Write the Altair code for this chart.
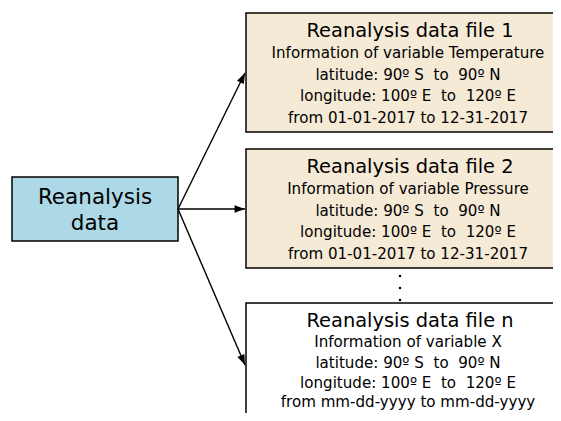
import math
import altair as alt
import pandas as pd

# ---- data (positions in picture pixels, mapped through linear scales) ----
box_x1 = [12, 246, 246, 246]
box_x2 = [178, 620, 620, 620]
box_y1 = [177, 13, 149, 303]
box_y2 = [241, 132, 268, 460]
box_fill = ["#ADD8E6", "#F5EAD5", "#F5EAD5", "#FFFFFF"]

src_text = ["Reanalysis", "data"]
src_text_x = [95, 95]
src_text_y = [198, 224]

title_text = ["Reanalysis data file 1", "Reanalysis data file 2", "Reanalysis data file n"]
title_x = [410, 410, 410]
title_y = [31, 167, 321]

body_text = [
    "Information of variable Temperature",
    "latitude: 90º S\u00a0 to\u00a0 90º N",
    "longitude: 100º E\u00a0 to\u00a0 120º E",
    "from 01-01-2017 to 12-31-2017",
    "Information of variable Pressure",
    "latitude: 90º S\u00a0 to\u00a0 90º N",
    "longitude: 100º E\u00a0 to\u00a0 120º E",
    "from 01-01-2017 to 12-31-2017",
    "Information of variable X",
    "latitude: 90º S\u00a0 to\u00a0 90º N",
    "longitude: 100º E\u00a0 to\u00a0 120º E",
    "from mm-dd-yyyy to mm-dd-yyyy",
]
body_x = [408] * 12
body_y = [53, 75, 96, 118, 189, 211, 232, 254, 342, 363, 383, 402]

arrow_x1 = [178, 178, 178]
arrow_y1 = [209, 209, 209]
arrow_x2 = [245, 245, 245]
arrow_y2 = [73, 209, 365]

dot_x = [400, 400, 400]
dot_y = [276, 288, 300]

# ---- tables ----
boxes = pd.DataFrame({"x": box_x1, "x2": box_x2, "y": box_y1, "y2": box_y2, "fill": box_fill})
src = pd.DataFrame({"x": src_text_x, "y": src_text_y, "t": src_text})
titles = pd.DataFrame({"x": title_x, "y": title_y, "t": title_text})
body = pd.DataFrame({"x": body_x, "y": body_y, "t": body_text})
arrows = pd.DataFrame({"x": arrow_x1, "y": arrow_y1, "x2": arrow_x2, "y2": arrow_y2})
arrows["ang"] = [
    math.degrees(math.atan2(x2 - x1, -(y2 - y1)))
    for x1, y1, x2, y2 in zip(arrow_x1, arrow_y1, arrow_x2, arrow_y2)
]
dots = pd.DataFrame({"x": dot_x, "y": dot_y})

W, H = 545, 405
xs = alt.Scale(domain=[8, 8 + W], nice=False, zero=False)
ys = alt.Scale(domain=[8, 8 + H], nice=False, zero=False, reverse=True)
X = lambda f="x": alt.X(f"{f}:Q", scale=xs, axis=None)
Y = lambda f="y": alt.Y(f"{f}:Q", scale=ys, axis=None)

rects = alt.Chart(boxes).mark_rect(stroke="black", strokeWidth=1.5, clip=True).encode(
    x=X(), x2="x2", y=Y(), y2="y2", fill=alt.Fill("fill:N", scale=None)
)

lines = alt.Chart(arrows).mark_rule(color="black", strokeWidth=1.4).encode(
    x=X(), x2="x2", y=Y(), y2="y2"
)

heads = alt.Chart(arrows).mark_point(
    shape="M0,0 L-0.8,2.2 L0.8,2.2 Z", filled=True, color="black", opacity=1, size=90
).encode(x=X("x2"), y=Y("y2"), angle=alt.Angle("ang:Q", scale=None))

dotm = alt.Chart(dots).mark_square(color="black", size=5, opacity=1).encode(x=X(), y=Y())

font = "DejaVu Sans"
src_t = alt.Chart(src).mark_text(font=font, fontSize=21.5, align="center", baseline="middle", color="black").encode(
    x=X(), y=Y(), text="t:N"
)
title_t = alt.Chart(titles).mark_text(font=font, fontSize=19.4, align="center", baseline="middle", color="black").encode(
    x=X(), y=Y(), text="t:N"
)
body_t = alt.Chart(body).mark_text(font=font, fontSize=15.1, align="center", baseline="middle", color="black").encode(
    x=X(), y=Y(), text="t:N"
)

chart = alt.layer(rects, lines, heads, dotm, src_t, title_t, body_t).properties(
    width=W, height=H, padding=0, autosize=alt.AutoSizeParams(type="none")
).configure_view(stroke=None)

chart.save("out.html", embed_options={"renderer": "svg", "actions": False})
